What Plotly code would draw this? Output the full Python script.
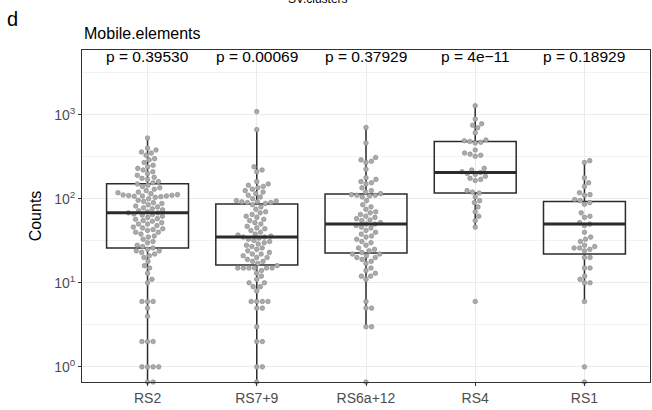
import math
import plotly.graph_objects as go

# ---------------- data ----------------
categories = ["RS2", "RS7+9", "RS6a+12", "RS4", "RS1"]
p_labels = ["p = 0.39530", "p = 0.00069", "p = 0.37929", "p = 4e\u221211", "p = 0.18929"]

rs2_counts = [0, 0, 1, 1, 1, 1, 2, 2, 2, 4, 5, 6, 6, 6, 10, 11, 13, 15, 16, 18, 20, 21, 22, 23,
              24, 24, 25, 26, 27, 28, 30, 31, 33, 35, 36, 38, 40, 40, 42, 43, 44, 45, 46, 48,
              50, 50, 52, 54, 55, 57, 58, 60, 62, 64, 65, 66, 68, 68, 70, 72, 74, 76, 78, 80,
              82, 85, 88, 90, 93, 96, 100, 104, 106, 107, 108, 108, 109, 110, 111, 112, 115,
              118, 120, 125, 130, 135, 140, 145, 150, 155, 160, 170, 175, 180, 190, 200, 210,
              220, 230, 240, 250, 270, 290, 300, 330, 350, 360, 380, 400, 528]
rs79_counts = [0, 1, 1, 2, 2, 3, 5, 5, 6, 6, 6, 6, 8, 9, 9, 10, 10, 11, 12, 13, 14, 15, 15, 15,
               15, 15, 15, 16, 17, 18, 18, 19, 20, 20, 21, 22, 22, 23, 24, 25, 26, 27, 28, 29,
               30, 31, 32, 33, 34, 35, 35, 36, 37, 38, 40, 42, 44, 45, 47, 50, 52, 55, 57, 60,
               62, 65, 68, 70, 75, 80, 85, 88, 90, 90, 92, 92, 94, 95, 100, 105, 110, 115, 120,
               125, 130, 135, 140, 145, 150, 160, 210, 220, 240, 665, 1090]
rs6a12_counts = [0, 3, 3, 5, 5, 6, 11, 12, 12, 13, 14, 15, 17, 18, 19, 20, 20, 21, 22, 22, 23,
                 24, 25, 26, 28, 30, 31, 33, 35, 36, 38, 40, 42, 45, 46, 48, 50, 50, 52, 55, 56,
                 58, 60, 62, 65, 68, 70, 75, 80, 85, 95, 105, 108, 110, 110, 112, 115, 120, 125,
                 135, 150, 155, 160, 170, 178, 225, 270, 280, 290, 310, 460, 705]
rs4_counts = [6, 46, 55, 62, 70, 80, 90, 95, 105, 117, 120, 125, 165, 170, 175, 185, 195, 200,
              205, 210, 220, 230, 320, 330, 340, 350, 380, 460, 470, 480, 490, 500, 610, 700,
              750, 780, 890, 1280]
rs1_counts = [0, 1, 6, 10, 10, 11, 12, 15, 15, 20, 20, 24, 25, 26, 26, 27, 28, 31, 33, 35, 40,
              48, 50, 52, 60, 62, 68, 86, 90, 95, 98, 110, 112, 118, 140, 155, 178, 270, 284]

group_counts = [rs2_counts, rs79_counts, rs6a12_counts, rs4_counts, rs1_counts]

# box statistics (as drawn)
box_q1 = [26, 16.3, 22.6, 117, 22]
box_median = [68, 35, 50, 205, 50]
box_q3 = [151, 86.5, 114, 480, 93]
box_lower = [0, 0, 3, 46, 6]
box_upper = [528, 665, 705, 1280, 284]

# ---------------- geometry helpers ----------------
Y_RANGE = [-0.18, 3.77]
X_RANGE = [-0.6, 4.6]
W, H = 652, 410
M = dict(l=82, r=2, t=50, b=28)
plot_w = W - M["l"] - M["r"]
plot_h = H - M["t"] - M["b"]
px_per_decade = plot_h / (Y_RANGE[1] - Y_RANGE[0])
px_per_unit = plot_w / (X_RANGE[1] - X_RANGE[0])
floor_val = 10 ** Y_RANGE[0]


def swarm_offsets(vals, d=5.6):
    ys = [math.log10(v if v > 0 else floor_val) * px_per_decade for v in vals]
    order = sorted(range(len(vals)), key=lambda i: ys[i])
    placed = []
    out = [0.0] * len(vals)
    for i in order:
        y = ys[i]
        cands = [0.0]
        near = [(xj, yj) for xj, yj in placed if abs(y - yj) < d]
        for xj, yj in near:
            dx = math.sqrt(max(d * d - (y - yj) ** 2, 0))
            cands += [xj + dx, xj - dx]
        ok = [c for c in cands
              if all((c - xj) ** 2 + (y - yj) ** 2 >= d * d - 1e-6 for xj, yj in near)]
        best = min(ok, key=lambda c: (abs(c), -c))
        placed.append((best, y))
        out[i] = best / px_per_unit
    return out


fig = go.Figure()

# points
for gi, vals in enumerate(group_counts):
    offs = swarm_offsets(vals)
    xs = [gi + o for o in offs]
    ys = [v if v > 0 else floor_val for v in vals]
    fig.add_trace(go.Scatter(
        x=xs, y=ys, mode="markers", cliponaxis=False,
        marker=dict(size=4.6, color="#ABABAB", line=dict(color="#858585", width=0.6)),
        showlegend=False, hoverinfo="y"))

# boxes
lower_draw = [v if v > 0 else 10 ** (Y_RANGE[0] - 1) for v in box_lower]
fig.add_trace(go.Box(
    x=list(range(len(categories))), q1=box_q1, median=box_median, q3=box_q3,
    lowerfence=lower_draw, upperfence=box_upper, width=0.75, whiskerwidth=0,
    fillcolor="rgba(0,0,0,0)", line=dict(color="#2B2B2B", width=1.5),
    boxpoints=False, showlegend=False))

# thicker median bars
mx, my = [], []
for gi, m in enumerate(box_median):
    mx += [gi - 0.375, gi + 0.375, None]
    my += [m, m, None]
fig.add_trace(go.Scatter(x=mx, y=my, mode="lines", line=dict(color="#2B2B2B", width=3),
                         showlegend=False, hoverinfo="skip"))

# p-value labels
for gi, lab in enumerate(p_labels):
    fig.add_annotation(x=gi, y=3.69, xref="x", yref="y", text=lab, showarrow=False,
                       font=dict(size=15.5, color="black"))

label_font = "Liberation Sans, Arial, sans-serif"
fig.add_annotation(text="d", xref="paper", yref="paper", x=(12 - M["l"]) / plot_w,
                   y=1 + (M["t"] - 19) / plot_h, showarrow=False,
                   font=dict(size=20, color="black"), xanchor="center", yanchor="middle")
fig.add_annotation(text="Mobile.elements", xref="paper", yref="paper", x=0,
                   y=1 + (M["t"] - 33) / plot_h, showarrow=False,
                   font=dict(size=16, color="black"), xanchor="left", yanchor="middle")
fig.add_annotation(text="SV.clusters", xref="paper", yref="paper",
                   x=(318 - M["l"]) / plot_w, y=1 + (M["t"] + 1) / plot_h, showarrow=False,
                   font=dict(size=12, color="black"), xanchor="center", yanchor="middle")

major = [1, 10, 100, 1000]
fig.update_layout(
    width=W, height=H, margin=M, plot_bgcolor="white", paper_bgcolor="white",
    font=dict(family=label_font, color="black"),
    xaxis=dict(range=X_RANGE, tickmode="array", tickvals=list(range(len(categories))),
               ticktext=categories, showgrid=True, gridcolor="#EBEBEB", gridwidth=1,
               zeroline=False, showline=True, linecolor="#333333", linewidth=1, mirror=True,
               ticks="outside", ticklen=3, tickcolor="#333333", automargin=False,
               tickfont=dict(size=14, color="#4D4D4D")),
    yaxis=dict(type="log", range=Y_RANGE, tickmode="array", tickvals=major,
               ticktext=["10<sup>0</sup>", "10<sup>1</sup>", "10<sup>2</sup>", "10<sup>3</sup>"],
               showgrid=True, gridcolor="#EBEBEB", gridwidth=1, zeroline=False,
               showline=True, linecolor="#333333", linewidth=1, mirror=True,
               ticks="outside", ticklen=3, tickcolor="#333333", automargin=False,
               tickfont=dict(size=14, color="#4D4D4D"),
               minor=dict(tickmode="array", tickvals=[10 ** 0.5, 10 ** 1.5, 10 ** 2.5, 10 ** 3.5],
                          showgrid=True, gridcolor="#F2F2F2", gridwidth=0.6, ticks=""),
               title=dict(text="Counts", font=dict(size=16, color="black"), standoff=8)),
)

fig.write_html("out.html", config={"displayModeBar": False},
               post_script="document.body.style.margin='0';document.body.style.overflow='hidden';")
